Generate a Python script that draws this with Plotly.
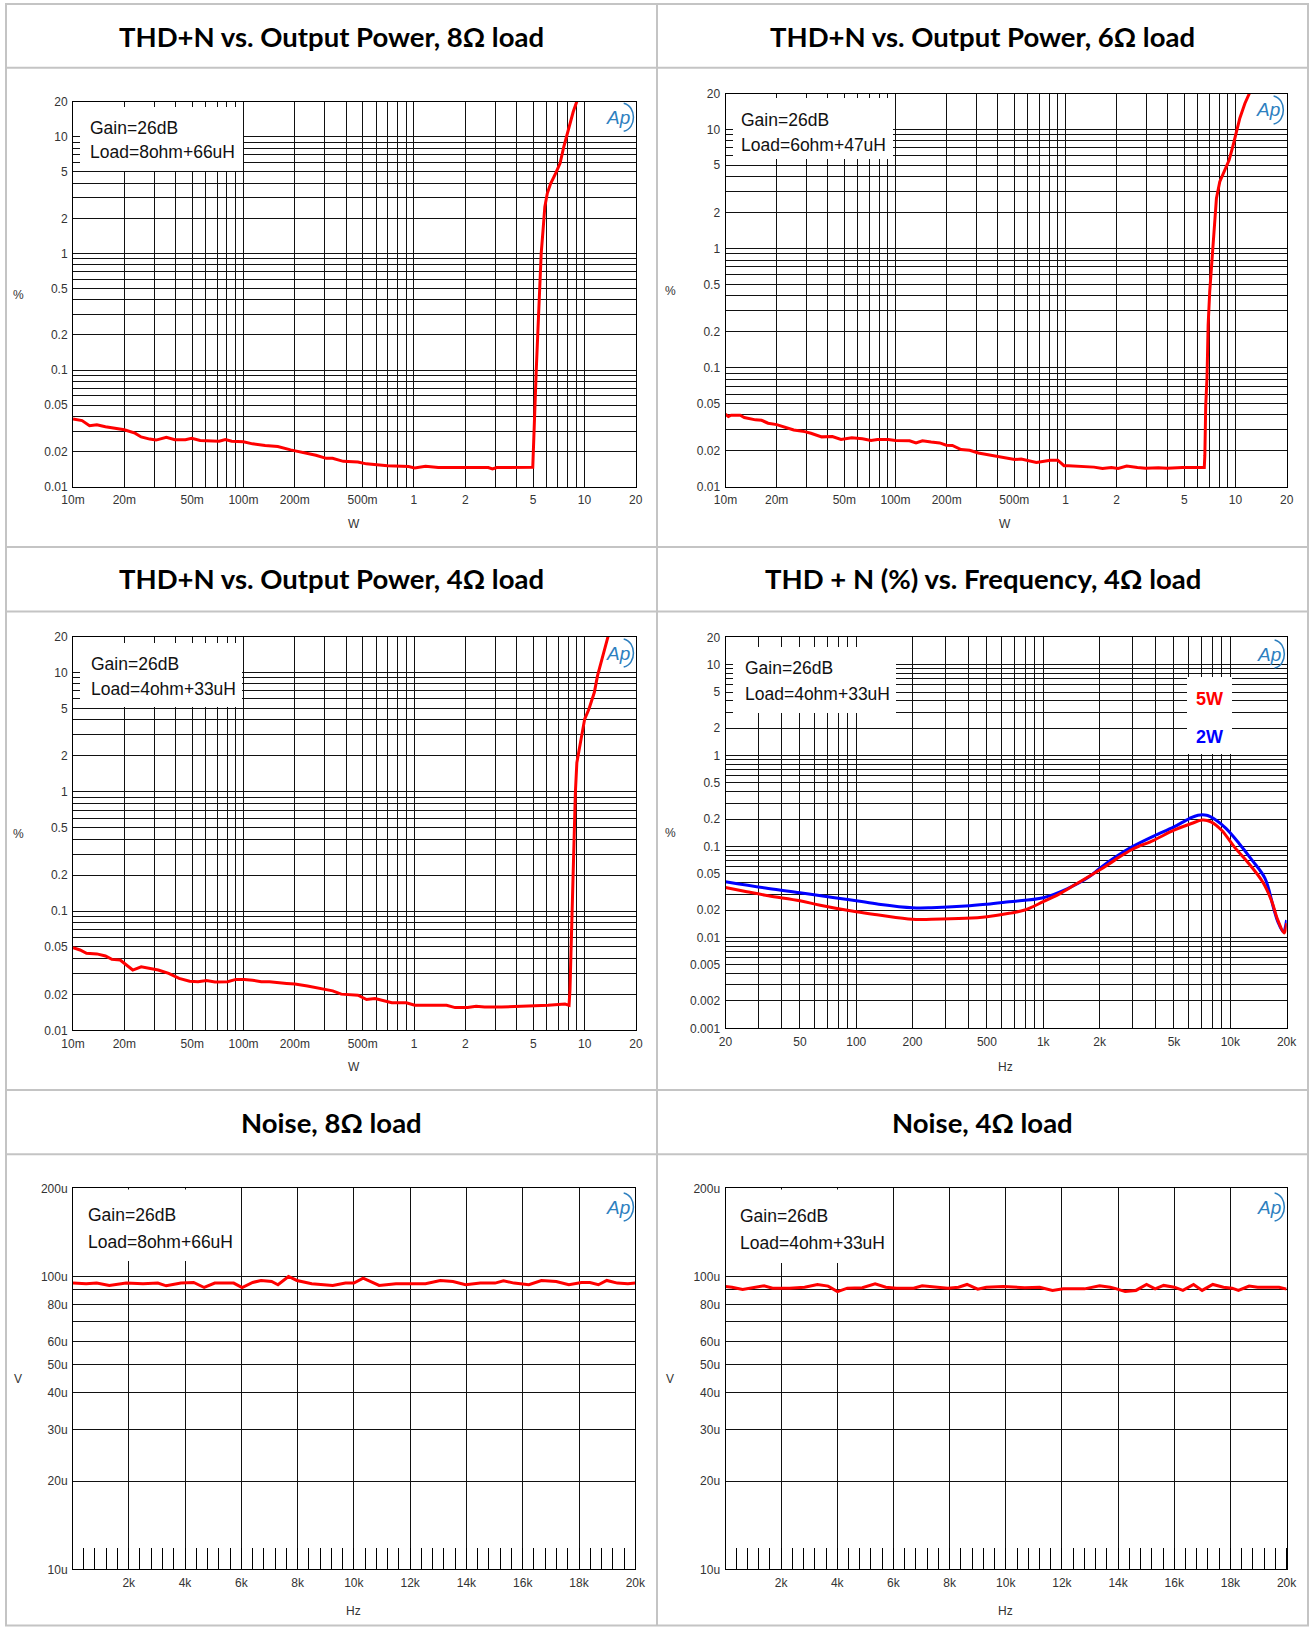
import plotly.graph_objects as go
import math

# ---------------- data ----------------
p8_power = [0.01, 0.0113, 0.0125, 0.0138, 0.0155, 0.0179, 0.020, 0.0231, 0.0251, 0.0282, 0.0307, 0.0353,
            0.0396, 0.0456, 0.0497, 0.0557, 0.0642, 0.072, 0.0783, 0.0853, 0.10, 0.113, 0.134, 0.159, 0.189,
            0.224, 0.266, 0.306, 0.333, 0.385, 0.469, 0.526, 0.70, 0.93, 1.01, 1.17, 1.39, 1.94, 2.73, 2.89,
            3.06, 4.98, 5.05, 5.12, 5.22, 5.33, 5.45, 5.58, 5.72, 5.86, 6.06, 6.34, 6.78, 7.2, 7.57, 8.1, 8.6, 9.05]
p8_thd = [0.0381, 0.0369, 0.0334, 0.0340, 0.0327, 0.0318, 0.0308, 0.0288, 0.0267, 0.0256, 0.0251, 0.0265,
          0.0253, 0.0253, 0.0260, 0.0249, 0.0246, 0.0245, 0.0254, 0.0245, 0.0243, 0.0233, 0.0226, 0.0221, 0.0207,
          0.0196, 0.0186, 0.0175, 0.0175, 0.0165, 0.0163, 0.0157, 0.0151, 0.0149, 0.0145, 0.0150, 0.0146, 0.0146,
          0.0146, 0.0142, 0.0146, 0.0147, 0.0297, 0.0427, 0.1, 0.207, 0.456, 1.0, 1.58, 2.51, 3.28, 3.98, 4.86,
          5.93, 8.22, 12.2, 16.4, 20.3]

p6_power = [0.01, 0.0104, 0.0108, 0.0122, 0.0129, 0.0150, 0.0163, 0.0178, 0.020, 0.0225, 0.0252, 0.0292,
            0.0318, 0.0368, 0.0425, 0.0478, 0.0553, 0.0639, 0.0718, 0.0783, 0.0906, 0.10, 0.121, 0.132, 0.144,
            0.162, 0.182, 0.199, 0.216, 0.243, 0.273, 0.307, 0.345, 0.387, 0.435, 0.502, 0.549, 0.618, 0.674,
            0.734, 0.814, 0.90, 0.98, 1.04, 1.24, 1.47, 1.65, 1.86, 2.04, 2.29, 2.65, 2.96, 3.52, 3.96, 4.87,
            5.98, 6.55, 6.6, 6.68, 6.80, 6.90, 7.05, 7.22, 7.45, 7.72, 8.08, 8.65, 9.17, 9.69, 10.14, 10.6,
            11.35, 12.15]
p6_thd = [0.0406, 0.0388, 0.0398, 0.0398, 0.0381, 0.0364, 0.0361, 0.0341, 0.0332, 0.0313, 0.0299, 0.0290,
          0.0281, 0.0262, 0.0264, 0.0249, 0.0258, 0.0253, 0.0244, 0.0249, 0.0249, 0.0244, 0.0243, 0.0233, 0.0243,
          0.0237, 0.0233, 0.0223, 0.0222, 0.0205, 0.0202, 0.0192, 0.0186, 0.0180, 0.0176, 0.0169, 0.0171, 0.0164,
          0.0160, 0.0163, 0.0167, 0.0167, 0.0150, 0.0150, 0.0148, 0.0146, 0.0142, 0.0145, 0.0142, 0.0149, 0.0145,
          0.0143, 0.0144, 0.0143, 0.0145, 0.0144, 0.0145, 0.0183, 0.0482, 0.0835, 0.227, 0.433, 0.724, 1.38,
          2.63, 3.63, 4.55, 5.52, 7.39, 9.55, 12.4, 16.5, 20.5]

p4_power = [0.01, 0.0110, 0.0120, 0.0138, 0.0155, 0.0169, 0.0189, 0.0206, 0.0224, 0.0251, 0.0282, 0.0316,
            0.0364, 0.0419, 0.0483, 0.0541, 0.0606, 0.068, 0.0806, 0.0903, 0.101, 0.113, 0.127, 0.142, 0.179,
            0.20, 0.237, 0.281, 0.333, 0.374, 0.469, 0.526, 0.59, 0.74, 0.90, 1.01, 1.23, 1.55, 1.74, 2.06,
            2.31, 2.59, 3.26, 4.33, 5.14, 6.1, 7.67, 8.1, 8.2, 8.4, 8.5, 8.67, 8.82, 9.0, 9.51, 10.0, 10.6,
            11.4, 11.9, 12.6, 13.8]
p4_thd = [0.0493, 0.0471, 0.0442, 0.0437, 0.0420, 0.0393, 0.0388, 0.0352, 0.0320, 0.0341, 0.0330, 0.0320,
          0.0300, 0.0272, 0.0258, 0.0255, 0.0261, 0.0254, 0.0255, 0.0267, 0.0267, 0.0263, 0.0255, 0.0255, 0.0247,
          0.0244, 0.0235, 0.0224, 0.0214, 0.0201, 0.0197, 0.0181, 0.0185, 0.0170, 0.0170, 0.0162, 0.0162, 0.0162,
          0.0155, 0.0155, 0.0159, 0.0157, 0.0157, 0.0159, 0.0162, 0.0162, 0.0166, 0.0162, 0.0217, 0.079, 0.208,
          0.585, 0.98, 1.75, 2.76, 4.06, 4.93, 6.81, 9.40, 13.0, 20.7]

freq_5w_hz = [20, 26, 33.9, 50, 64.2, 100, 132, 200, 252, 384, 500, 657, 797, 1000, 1215, 1500, 2000, 2410,
              2980, 3890, 5000, 6200, 7080, 7870, 8990, 10500, 12330, 14880, 16570, 17950, 19430, 20000]
freq_5w_thd = [0.0354, 0.0318, 0.0287, 0.0253, 0.0226, 0.0191, 0.0176, 0.0158, 0.0158, 0.0162, 0.0169, 0.0184,
               0.0200, 0.0247, 0.0299, 0.0386, 0.0550, 0.0708, 0.0927, 0.117, 0.151, 0.179, 0.195, 0.187, 0.151,
               0.099, 0.068, 0.0409, 0.0257, 0.0155, 0.0112, 0.0143]
freq_2w_hz = [20, 33.9, 50, 75, 100, 132, 200, 252, 384, 500, 657, 1000, 1350, 1760, 2000, 2410, 2980, 3890,
              5000, 6040, 6720, 7470, 8300, 9480, 11140, 13070, 15330, 17060, 17950, 19230, 20000]
freq_2w_thd = [0.0409, 0.0345, 0.0310, 0.0275, 0.0253, 0.0232, 0.0212, 0.0212, 0.0221, 0.0232, 0.0247, 0.0273,
               0.0345, 0.0464, 0.0573, 0.0757, 0.099, 0.130, 0.164, 0.203, 0.221, 0.221, 0.198, 0.158, 0.108,
               0.0708, 0.0445, 0.0208, 0.0149, 0.0115, 0.0155]

noise8_hz = [20, 487, 862, 1311, 1910, 2509, 3034, 3333, 3858, 4307, 4681, 5056, 5730, 6030, 6404, 6704, 7078,
             7303, 7677, 7977, 8501, 9250, 9700, 10000, 10329, 10898, 11497, 11947, 12546, 13070, 13520, 13969,
             14493, 15018, 15317, 15692, 16216, 16665, 17190, 17639, 18089, 18388, 18688, 18987, 19362, 19736, 20000]
noise8_uv = [94.9, 94.4, 94.9, 93.2, 94.9, 94.4, 94.9, 92.9, 94.9, 95.4, 91.7, 94.9, 94.9, 91.7, 95.4, 96.9,
             96.1, 93.7, 100.0, 96.9, 94.4, 93.2, 94.9, 94.9, 98.7, 93.2, 94.4, 94.4, 94.4, 96.9, 96.1, 93.7, 94.9,
             94.9, 96.6, 94.9, 93.7, 96.9, 96.1, 93.7, 95.4, 95.4, 93.7, 96.9, 94.9, 94.4, 94.9]

noise4_hz = [20, 250, 630, 1087, 1391, 1696, 2304, 2837, 3294, 3674, 4009, 4359, 4892, 5348, 5729, 6109, 6718,
             7023, 7479, 7936, 8316, 8621, 9001, 9306, 9914, 10219, 10675, 11208, 11665, 12045, 12806, 13339,
             13719, 13948, 14252, 14633, 15013, 15318, 15622, 16002, 16307, 16687, 16992, 17372, 17753, 18057,
             18285, 18666, 18970, 19427, 19731, 20000]
noise4_uv = [92.4, 91.9, 90.3, 91.9, 92.9, 91.2, 91.2, 91.9, 93.9, 92.7, 88.8, 91.2, 91.5, 94.4, 91.9, 91.2,
             91.2, 92.9, 91.9, 91.2, 91.9, 93.9, 90.5, 91.9, 92.4, 91.9, 91.5, 91.9, 89.6, 90.7, 90.7, 92.9, 91.9,
             90.7, 88.8, 89.6, 93.9, 90.7, 93.2, 91.9, 89.6, 93.9, 89.6, 93.9, 91.9, 91.2, 89.6, 92.7, 91.9, 91.9,
             91.9, 90.5]

titles = ["THD+N vs. Output Power, 8\u03a9 load", "THD+N vs. Output Power, 6\u03a9 load",
          "THD+N vs. Output Power, 4\u03a9 load", "THD + N (%) vs. Frequency, 4\u03a9 load",
          "Noise, 8\u03a9 load", "Noise, 4\u03a9 load"]
gain_text = "Gain=26dB"
load_texts = ["Load=8ohm+66uH", "Load=6ohm+47uH", "Load=4ohm+33uH", "Load=4ohm+33uH",
              "Load=8ohm+66uH", "Load=4ohm+33uH"]
legend_labels = ["5W", "2W"]
x_titles = ["W", "W", "W", "Hz", "Hz", "Hz"]
y_titles = ["%", "%", "%", "%", "V", "V"]

power_tick_vals = [0.01, 0.02, 0.05, 0.1, 0.2, 0.5, 1, 2, 5, 10, 20]
power_tick_text = ["10m", "20m", "50m", "100m", "200m", "500m", "1", "2", "5", "10", "20"]
thd_tick_vals = [0.01, 0.02, 0.05, 0.1, 0.2, 0.5, 1, 2, 5, 10, 20]
thd_tick_text = ["0.01", "0.02", "0.05", "0.1", "0.2", "0.5", "1", "2", "5", "10", "20"]
freq_tick_vals = [20, 50, 100, 200, 500, 1000, 2000, 5000, 10000, 20000]
freq_tick_text = ["20", "50", "100", "200", "500", "1k", "2k", "5k", "10k", "20k"]
fthd_tick_vals = [0.001, 0.002, 0.005, 0.01, 0.02, 0.05, 0.1, 0.2, 0.5, 1, 2, 5, 10, 20]
fthd_tick_text = ["0.001", "0.002", "0.005", "0.01", "0.02", "0.05", "0.1", "0.2", "0.5", "1", "2", "5", "10", "20"]
noise_x_tick_vals = [2000, 4000, 6000, 8000, 10000, 12000, 14000, 16000, 18000, 20000]
noise_x_tick_text = ["2k", "4k", "6k", "8k", "10k", "12k", "14k", "16k", "18k", "20k"]
noise_y_tick_vals = [10e-6, 20e-6, 30e-6, 40e-6, 50e-6, 60e-6, 70e-6, 80e-6, 90e-6, 100e-6, 200e-6]
noise_y_tick_text = ["10u", "20u", "30u", "40u", "50u", "60u", "", "80u", "", "100u", "200u"]

# ---------------- helpers ----------------
W, H = 1310, 1628
def PX(x): return x / W
def PY(y): return 1 - y / H

TICKFONT = "Liberation Sans, Arial, sans-serif"
BOXFONT = "Liberation Sans, Arial, sans-serif"
TITLEFONT = "Lato, Open Sans, sans-serif"

def log_grid(lo, hi):
    vals = []
    e = math.floor(math.log10(lo)) - 1
    while 10 ** e <= hi * 1.0001:
        for m in range(1, 10):
            v = m * 10 ** e
            if lo * 0.9999 <= v <= hi * 1.0001:
                vals.append(v)
        e += 1
    return vals

def merge_ticks(grid, lab_vals, lab_text):
    d = {}
    for v in grid:
        d[round(math.log10(v), 6)] = (v, "")
    for v, t in zip(lab_vals, lab_text):
        d[round(math.log10(v), 6)] = (v, t)
    keys = sorted(d)
    return [d[k][0] for k in keys], [d[k][1] for k in keys]

# plot areas in pixels: (left, right, top, bottom)
areas = [(73, 635.7, 101.7, 486.7), (725.5, 1286.7, 93.5, 486.7),
         (73, 636, 636.5, 1030.3), (725.5, 1286.6, 637.3, 1028.3),
         (73, 635.3, 1188.3, 1569.3), (725.5, 1286.6, 1188.3, 1569.3)]

fig = go.Figure()
layout = dict(width=W, height=H, margin=dict(l=0, r=0, t=0, b=0, autoexpand=False), paper_bgcolor="white",
              plot_bgcolor="white", showlegend=False)

axis_common = dict(showline=True, mirror=True, linecolor="black", linewidth=1, showgrid=True,
                   gridcolor="#111111", gridwidth=1, zeroline=False, ticks="", fixedrange=True,
                   automargin=False, ticklabelstandoff=2,
                   tickfont=dict(family=TICKFONT, size=12, color="#333333"), tickmode="array")

for i, (l, r, t, b) in enumerate(areas):
    n = i + 1
    xa = dict(axis_common, domain=[PX(l), PX(r)], anchor="y%d" % n if n > 1 else "y")
    ya = dict(axis_common, domain=[PY(b), PY(t)], anchor="x%d" % n if n > 1 else "x")
    if i < 3:
        tv, tt = merge_ticks(log_grid(0.01, 10), power_tick_vals, power_tick_text)
        xa.update(type="log", range=[math.log10(0.01), math.log10(20)], tickvals=tv, ticktext=tt)
        tv, tt = merge_ticks(log_grid(0.01, 10), thd_tick_vals, thd_tick_text)
        ya.update(type="log", range=[math.log10(0.01), math.log10(20)], tickvals=tv, ticktext=tt)
    elif i == 3:
        tv, tt = merge_ticks(log_grid(20, 20000), freq_tick_vals, freq_tick_text)
        xa.update(type="log", range=[math.log10(20), math.log10(20000)], tickvals=tv, ticktext=tt)
        tv, tt = merge_ticks(log_grid(0.001, 10), fthd_tick_vals, fthd_tick_text)
        ya.update(type="log", range=[math.log10(0.001), math.log10(20)], tickvals=tv, ticktext=tt)
    else:
        xa.update(type="linear", range=[20, 20000], tickvals=noise_x_tick_vals, ticktext=noise_x_tick_text,
                  minor=dict(tickmode="linear", tick0=0, dtick=400, ticks="inside", ticklen=21,
                             tickcolor="black", tickwidth=1, showgrid=False))
        ya.update(type="log", range=[math.log10(10e-6), math.log10(200e-6)],
                  tickvals=noise_y_tick_vals, ticktext=noise_y_tick_text)
    layout["xaxis" if n == 1 else "xaxis%d" % n] = xa
    layout["yaxis" if n == 1 else "yaxis%d" % n] = ya

RED = "#ff0000"
BLUE = "#0000ff"
def add(x, y, n, color, shape="linear"):
    fig.add_trace(go.Scatter(x=x, y=y, mode="lines", line=dict(color=color, width=3, shape=shape),
                             xaxis="x" if n == 1 else "x%d" % n, yaxis="y" if n == 1 else "y%d" % n,
                             hoverinfo="skip"))

add(p8_power, p8_thd, 1, RED)
add(p6_power, p6_thd, 2, RED)
add(p4_power, p4_thd, 3, RED)
add(freq_2w_hz, freq_2w_thd, 4, BLUE, "spline")
add(freq_5w_hz, freq_5w_thd, 4, RED, "spline")
add(noise8_hz, [v * 1e-6 for v in noise8_uv], 5, RED)
add(noise4_hz, [v * 1e-6 for v in noise4_uv], 6, RED)

shapes = []
annotations = []
GREY = "#c4c4c4"
# table borders
shapes.append(dict(type="rect", xref="paper", yref="paper", x0=PX(6), x1=PX(1308), y0=PY(1625.5), y1=PY(4),
                   line=dict(color=GREY, width=2)))
shapes.append(dict(type="line", xref="paper", yref="paper", x0=PX(657), x1=PX(657), y0=PY(1625.5), y1=PY(4),
                   line=dict(color=GREY, width=2)))
for yy in [67.7, 547, 611.5, 1090, 1154.2]:
    shapes.append(dict(type="line", xref="paper", yref="paper", x0=PX(6), x1=PX(1308), y0=PY(yy), y1=PY(yy),
                       line=dict(color=GREY, width=2)))

# titles
title_pos = [(331.5, 36), (982.5, 36), (331.5, 579), (982.5, 579), (331.5, 1122), (982.5, 1122)]
for txt, (x, y) in zip(titles, title_pos):
    annotations.append(dict(xref="paper", yref="paper", x=PX(x), y=PY(y), text="<b>%s</b>" % txt,
                            showarrow=False, xanchor="center", yanchor="middle",
                            font=dict(family=TITLEFONT, size=27.5, color="black")))

# info boxes
boxes = [(80, 107, 243, 171, 88, 128.3, 151.7), (733, 98, 893, 159, 739, 120.4, 145.3),
         (80, 643, 242, 707, 88.5, 664.3, 689.3), (733, 647, 896, 713, 742.6, 668.3, 694.3),
         (74, 1189.5, 236, 1261, 86.3, 1215, 1241.7), (726.5, 1189.5, 887, 1263, 738, 1215.6, 1242.6)]
for (x0, y0, x1, y1, tx, ty1, ty2), ld in zip(boxes, load_texts):
    shapes.append(dict(type="rect", xref="paper", yref="paper", x0=PX(x0), x1=PX(x1), y0=PY(y1), y1=PY(y0),
                       fillcolor="white", line=dict(width=0), layer="above"))
    for yy, txt in [(ty1, gain_text), (ty2, ld)]:
        annotations.append(dict(xref="paper", yref="paper", x=PX(tx), y=PY(yy), text=txt, showarrow=False,
                                xanchor="left", yanchor="middle",
                                font=dict(family=BOXFONT, size=17.5, color="#111111")))

# legend box on frequency chart
shapes.append(dict(type="rect", xref="paper", yref="paper", x0=PX(1187), x1=PX(1232), y0=PY(754), y1=PY(677),
                   fillcolor="white", line=dict(width=0), layer="above"))
for lab, col, yy in [(legend_labels[0], RED, 699.3), (legend_labels[1], BLUE, 736.7)]:
    annotations.append(dict(xref="paper", yref="paper", x=PX(1209), y=PY(yy), text="<b>%s</b>" % lab,
                            showarrow=False, xanchor="center", yanchor="middle",
                            font=dict(family=BOXFONT, size=18, color=col)))

# Ap logos
AP = "#2d7fbf"
logo_pos = [(619.7, 117.3), (1269.6, 110), (619.7, 653), (1270.6, 654), (619.7, 1207), (1270.6, 1207)]
for (x, y) in logo_pos:
    annotations.append(dict(xref="paper", yref="paper", x=PX(x - 2), y=PY(y), text="<i>Ap</i>",
                            showarrow=False, xanchor="center", yanchor="middle",
                            font=dict(family="Liberation Sans, Arial, sans-serif", size=19, color=AP)))
    shapes.append(dict(type="path", xref="paper", yref="paper", xsizemode="pixel", ysizemode="pixel",
                       xanchor=PX(x), yanchor=PY(y), path="M 4,14 C 17,11 17,-11 4,-14",
                       line=dict(color=AP, width=1.5), layer="above"))

# axis titles
xt_pos = [(354, 524.2), (1005, 524.2), (354, 1067), (1005, 1067), (354, 1611), (1005, 1611)]
yt_pos = [(18.7, 294.8), (670.6, 290.7), (18.7, 833.6), (670.6, 832.6), (17.6, 1378.6), (669.6, 1378.6)]
for txt, (x, y) in zip(x_titles, xt_pos):
    annotations.append(dict(xref="paper", yref="paper", x=PX(x), y=PY(y), text=txt, showarrow=False,
                            xanchor="center", yanchor="middle", font=dict(family=TICKFONT, size=12, color="#333")))
for txt, (x, y) in zip(y_titles, yt_pos):
    annotations.append(dict(xref="paper", yref="paper", x=PX(x), y=PY(y), text=txt, showarrow=False,
                            xanchor="center", yanchor="middle", font=dict(family=TICKFONT, size=12, color="#333")))

layout["shapes"] = shapes
layout["annotations"] = annotations
fig.update_layout(**layout)
fig.write_html("out.html")
